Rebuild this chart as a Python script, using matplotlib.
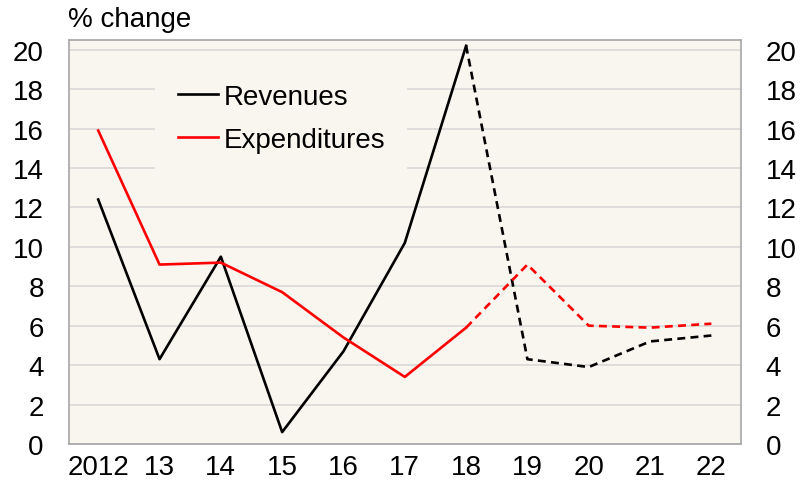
import numpy as np
import matplotlib.pyplot as plt
from matplotlib.lines import Line2D

plt.rcParams['font.family'] = ['Liberation Sans', 'DejaVu Sans']

years = ['2012', '13', '14', '15', '16', '17', '18', '19', '20', '21', '22']
revenues = [12.4, 4.3, 9.5, 0.6, 4.7, 10.2, 20.2, 4.3, 3.9, 5.2, 5.5]
expenditures = [15.9, 9.1, 9.2, 7.7, 5.4, 3.4, 5.9, 9.1, 6.0, 5.9, 6.1]
split = 6  # last actual year (2018), projections after

x = np.arange(len(years))

fig = plt.figure(figsize=(8, 4.81), dpi=100)
ax = fig.add_axes([0.086, 0.075, 0.84, 0.84])
ax.set_facecolor('#f9f5ef')

for v in range(0, 21, 2):
    ax.axhline(v, color='#d9d9d9', lw=1.2, zorder=0)

ax.plot(x[:split + 1], revenues[:split + 1], color='black', lw=1.9)
ax.plot(x[split:], revenues[split:], color='black', lw=1.9, ls=(0, (3, 2)))
ax.plot(x[:split + 1], expenditures[:split + 1], color='red', lw=1.9)
ax.plot(x[split:], expenditures[split:], color='red', lw=1.9, ls=(0, (3, 2)))

ax.set_xlim(-0.48, 10.48)
ax.set_ylim(0, 20.5)
ax.set_xticks(x)
ax.set_xticklabels(years)
ax.set_yticks(range(0, 21, 2))
ax.tick_params(axis='both', length=0, labelsize=20)
ax.tick_params(axis='x', pad=7)
ax.tick_params(axis='y', labelright=True, pad=18)
for s in ax.spines.values():
    s.set_color('#a6a6a6')
    s.set_linewidth(1.2)

handles = [Line2D([], [], color='black', lw=1.9), Line2D([], [], color='red', lw=1.9)]
leg = ax.legend(handles, ['Revenues', 'Expenditures'], loc='upper left',
                bbox_to_anchor=(0.129, 0.946), borderaxespad=0, fontsize=20,
                frameon=True, handlelength=1.45, handletextpad=0.2,
                labelspacing=0.61, borderpad=0.8)
leg.get_frame().set_facecolor('#f9f5ef')
leg.get_frame().set_edgecolor('none')
leg.get_frame().set_alpha(1)

fig.text(0.085, 0.958, '% change', fontsize=20, va='center', ha='left')

fig.savefig('out.png')
